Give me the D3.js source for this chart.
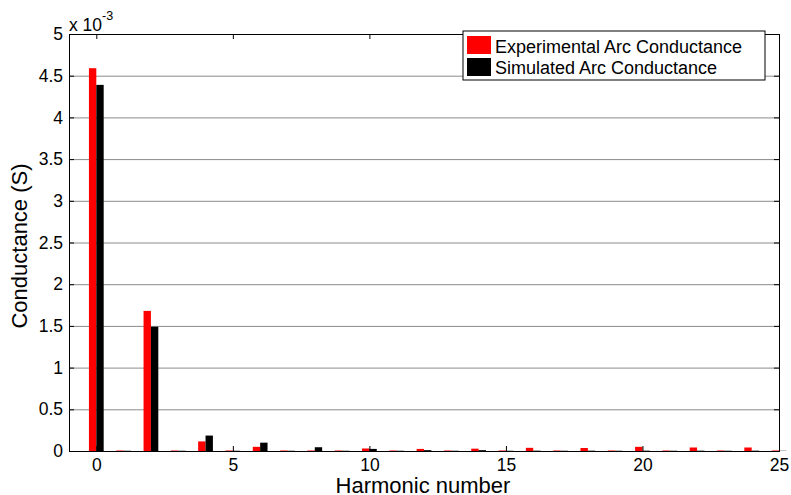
<!DOCTYPE html>
<html>
<head>
<meta charset="utf-8">
<script src="https://cdn.jsdelivr.net/npm/d3@7"></script>
<style>
  html, body { margin: 0; padding: 0; background: #fff; }
  svg { display: block; font-family: "Liberation Sans", Arial, sans-serif; }
</style>
</head>
<body>
<svg id="chart" width="791" height="495"></svg>
<script>
// Harmonic numbers and conductance amplitudes (units of 1e-3 S)
const harmonics = [0, 1, 2, 3, 4, 5, 6, 7, 8, 9, 10, 11, 12, 13, 14, 15, 16, 17, 18, 19, 20, 21, 22, 23, 24, 25];
const experimental = [4.59, 0.006, 1.68, 0.006, 0.115, 0.006, 0.05, 0.006, 0.006, 0.006, 0.03, 0.006, 0.025, 0.006, 0.028, 0.006, 0.038, 0.006, 0.036, 0.006, 0.05, 0.006, 0.042, 0.006, 0.042, 0.006];
const simulated = [4.39, 0.003, 1.49, 0.003, 0.185, 0.003, 0.10, 0.003, 0.045, 0.003, 0.025, 0.003, 0.01, 0.003, 0.01, 0.003, 0.004, 0.003, 0.004, 0.003, 0.004, 0.003, 0.004, 0.003, 0.004, 0.003];
const seriesNames = ["Experimental Arc Conductance", "Simulated Arc Conductance"];
const seriesColors = ["#ff0000", "#000000"];
const xTicks = [0, 5, 10, 15, 20, 25];
const yTicks = [0, 0.5, 1, 1.5, 2, 2.5, 3, 3.5, 4, 4.5, 5];

const svg = d3.select("#chart");
const m = { left: 69, right: 779, top: 34, bottom: 451 };

const x = d3.scaleLinear().domain([-1, 25]).range([m.left, m.right]);
const y = d3.scaleLinear().domain([0, 5]).range([m.bottom, m.top]);

// horizontal grid lines
svg.append("g")
  .selectAll("line")
  .data(yTicks.filter(v => v > 0 && v < 5))
  .join("line")
  .attr("x1", m.left).attr("x2", m.right)
  .attr("y1", d => y(d) + 0.5).attr("y2", d => y(d) + 0.5)
  .attr("stroke", "#8a8a8a").attr("stroke-width", 1);

// grouped bars
const barW = x(0.27) - x(0);
const series = [experimental, simulated];
series.forEach((vals, si) => {
  svg.append("g")
    .selectAll("rect")
    .data(harmonics.map((h, i) => ({ h, v: vals[i] })))
    .join("rect")
    .attr("x", d => x(d.h) + (si === 0 ? -barW : 0))
    .attr("width", barW)
    .attr("y", d => y(d.v))
    .attr("height", d => Math.max(0, y(0) - y(d.v)))
    .attr("fill", seriesColors[si]);
});

// axes (box with inward ticks)
const tickLen = 5;
const xAxis = svg.append("g").attr("transform", `translate(0,${m.bottom})`)
  .call(d3.axisBottom(x).tickValues(xTicks).tickSize(-tickLen).tickPadding(8));
const xAxisTop = svg.append("g").attr("transform", `translate(0,${m.top})`)
  .call(d3.axisTop(x).tickValues(xTicks).tickSize(-tickLen).tickFormat(""));
const yAxis = svg.append("g").attr("transform", `translate(${m.left},0)`)
  .call(d3.axisLeft(y).tickValues(yTicks).tickSize(-tickLen).tickPadding(6)
    .tickFormat(d => d3.format("~g")(d)));
const yAxisRight = svg.append("g").attr("transform", `translate(${m.right},0)`)
  .call(d3.axisRight(y).tickValues(yTicks).tickSize(-tickLen).tickFormat(""));

[xAxis, xAxisTop, yAxis, yAxisRight].forEach(g => {
  g.select(".domain").attr("stroke", "#000");
  g.selectAll(".tick line").attr("stroke", "#000");
  g.selectAll(".tick text").attr("fill", "#000")
    .style("font-size", "17.5px").style("font-family", "Liberation Sans, Arial, sans-serif");
});

// exponent multiplier
const expo = svg.append("text").attr("x", 69).attr("y", 31)
  .style("font-size", "17.5px").attr("fill", "#000");
expo.append("tspan").text("x 10");
expo.append("tspan").attr("dy", -11).style("font-size", "12.5px").text("-3");

// axis titles
svg.append("text").attr("x", 423).attr("y", 493).attr("text-anchor", "middle")
  .style("font-size", "22px").attr("fill", "#000").text("Harmonic number");
svg.append("text").attr("transform", "translate(27,246) rotate(-90)").attr("text-anchor", "middle")
  .style("font-size", "22px").attr("fill", "#000").text("Conductance (S)");

// legend
const lg = svg.append("g");
lg.append("rect").attr("x", 463).attr("y", 31).attr("width", 302).attr("height", 49)
  .attr("fill", "#fff").attr("stroke", "#000").attr("stroke-width", 1);
seriesNames.forEach((name, i) => {
  lg.append("rect").attr("x", 467).attr("y", 36 + i * 22).attr("width", 24).attr("height", 18)
    .attr("fill", seriesColors[i]);
  lg.append("text").attr("x", 495).attr("y", 52.5 + i * 21.7)
    .style("font-size", "18px").attr("fill", "#000").text(name);
});
</script>
</body>
</html>
